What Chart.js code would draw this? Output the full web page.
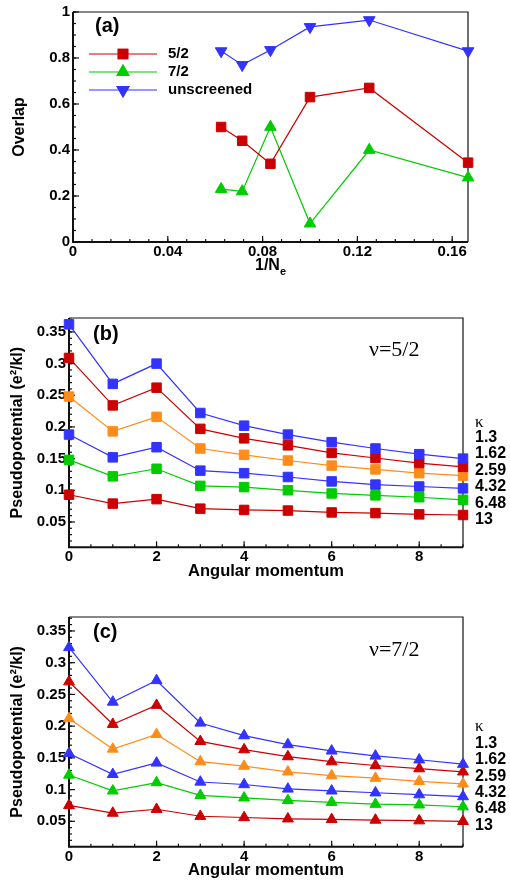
<!DOCTYPE html>
<html><head><meta charset="utf-8">
<script src="https://cdn.jsdelivr.net/npm/chart.js@4.4.0/dist/chart.umd.min.js"></script>
<style>
html,body{margin:0;padding:0;background:#fff;width:510px;height:880px;overflow:hidden}
.p{position:absolute;left:0;width:510px;height:290px}
</style></head><body>
<div class="p" style="top:0"><canvas id="ca"></canvas></div>
<div class="p" style="top:290px"><canvas id="cb"></canvas></div>
<div class="p" style="top:590px"><canvas id="cc"></canvas></div>
<script>
// ---------- data ----------
const invNe = [0.0625, 0.0714, 0.0833, 0.1, 0.125, 0.1667];
const overlap52 = [0.50, 0.44, 0.34, 0.63, 0.67, 0.345];
const overlap72 = [0.23, 0.22, 0.50, 0.08, 0.40, 0.28];
const overlapUnscreened = [0.83, 0.77, 0.835, 0.935, 0.965, 0.83];
const seriesNamesA = ['5/2', '7/2', 'unscreened'];
const xTicksA = [0, 0.04, 0.08, 0.12, 0.16];
const xTickLabelsA = ['0', '0.04', '0.08', '0.12', '0.16'];
const yTicksA = [0, 0.2, 0.4, 0.6, 0.8, 1];
const yTickLabelsA = ['0', '0.2', '0.4', '0.6', '0.8', '1'];

const angularMomentum = [0, 1, 2, 3, 4, 5, 6, 7, 8, 9];
const kappaLabels = ['1.3', '1.62', '2.59', '4.32', '6.48', '13'];
const v52_k1_3  = [0.362, 0.268, 0.300, 0.222, 0.202, 0.188, 0.176, 0.166, 0.157, 0.150];
const v52_k1_62 = [0.309, 0.234, 0.262, 0.197, 0.182, 0.171, 0.159, 0.151, 0.143, 0.137];
const v52_k2_59 = [0.248, 0.193, 0.216, 0.166, 0.156, 0.147, 0.139, 0.133, 0.127, 0.123];
const v52_k4_32 = [0.188, 0.152, 0.168, 0.131, 0.127, 0.121, 0.114, 0.109, 0.106, 0.103];
const v52_k6_48 = [0.148, 0.122, 0.134, 0.107, 0.105, 0.100, 0.095, 0.092, 0.089, 0.085];
const v52_k13   = [0.093, 0.079, 0.086, 0.071, 0.069, 0.068, 0.065, 0.064, 0.062, 0.061];

const v72_k1_3  = [0.324, 0.238, 0.272, 0.205, 0.185, 0.171, 0.161, 0.153, 0.147, 0.140];
const v72_k1_62 = [0.270, 0.203, 0.233, 0.176, 0.163, 0.152, 0.144, 0.138, 0.133, 0.128];
const v72_k2_59 = [0.212, 0.164, 0.187, 0.144, 0.137, 0.128, 0.122, 0.118, 0.113, 0.109];
const v72_k4_32 = [0.157, 0.124, 0.142, 0.112, 0.108, 0.101, 0.098, 0.095, 0.092, 0.089];
const v72_k6_48 = [0.123, 0.098, 0.111, 0.091, 0.087, 0.083, 0.080, 0.077, 0.076, 0.073];
const v72_k13   = [0.075, 0.063, 0.069, 0.058, 0.056, 0.054, 0.053, 0.052, 0.051, 0.050];

const xTicksB = [0, 2, 4, 6, 8];
const xTickLabelsB = ['0', '2', '4', '6', '8'];
const yTicksB = [0.05, 0.1, 0.15, 0.2, 0.25, 0.3, 0.35];
const yTickLabelsB = ['0.05', '0.1', '0.15', '0.2', '0.25', '0.3', '0.35'];

// ---------- styles ----------
const RED = '#cc0000', GREEN = '#00cc00', BLUE = '#3333ff', ORANGE = '#ff8c1a';
const SANS = '"Liberation Sans", Arial, sans-serif';
const SERIF = '"Liberation Serif", "Times New Roman", serif';
const kappaColors = [BLUE, RED, ORANGE, BLUE, GREEN, RED];

function ds(label, xs, ys, color, style, rot, r) {
  return {
    label, data: xs.map((x, i) => ({x, y: ys[i]})),
    borderColor: color, backgroundColor: color, borderWidth: 1.2,
    pointStyle: style, pointRotation: rot || 0, pointRadius: r, pointHoverRadius: r,
    pointBackgroundColor: color, pointBorderColor: color, pointBorderWidth: 1,
    clip: false, tension: 0
  };
}

const framePlugin = {
  id: 'frame',
  beforeDatasetsDraw(chart, args, o) {
    const {ctx, chartArea: a, scales: {x, y}} = chart;
    ctx.save();
    ctx.strokeStyle = '#111';
    ctx.lineWidth = 1.2;
    ctx.beginPath();
    ctx.moveTo(a.left, a.top); ctx.lineTo(a.right, a.top); ctx.lineTo(a.right, a.bottom);
    ctx.stroke();
    ctx.lineWidth = 1.2;
    const xt = (v, len) => { const p = x.getPixelForValue(v); ctx.beginPath(); ctx.moveTo(p, a.bottom); ctx.lineTo(p, a.bottom - len); ctx.stroke(); };
    const yt = (v, len) => { const p = y.getPixelForValue(v); ctx.beginPath(); ctx.moveTo(a.left, p); ctx.lineTo(a.left + len, p); ctx.stroke(); };
    for (let i = 0; ; i++) { const v = x.min + i * o.xMinor; if (v > x.max + 1e-9) break; xt(v, 3); }
    for (let i = 0; ; i++) { const v = o.yMinorStart + i * o.yMinor; if (v > y.max + 1e-9) break; if (v >= y.min - 1e-9) yt(v, 3); }
    o.xMajor.forEach(v => xt(v, 6));
    o.yMajor.forEach(v => yt(v, 6));
    ctx.lineWidth = 2;
    ctx.beginPath();
    ctx.moveTo(a.left, a.top); ctx.lineTo(a.left, a.bottom); ctx.lineTo(a.right, a.bottom);
    ctx.stroke();
    ctx.restore();
  }
};

const textPlugin = {
  id: 'texts',
  afterDatasetsDraw(chart, args, o) {
    const ctx = chart.ctx;
    ctx.save();
    ctx.fillStyle = '#000';
    ctx.textBaseline = 'middle';
    ctx.textAlign = 'left';
    ctx.font = 'bold 20px ' + SANS;
    ctx.fillText(o.panel, o.panelX, o.panelY);
    if (o.nu) {
      ctx.font = '22px ' + SERIF;
      ctx.fillText(o.nu, o.nuX, o.nuY);
    }
    if (o.kappa) {
      ctx.font = '17px ' + SERIF;
      ctx.fillText('\u03BA', o.kX, o.kY);
      ctx.font = 'bold 16px ' + SANS;
      kappaLabels.forEach((t, i) => ctx.fillText(t, o.kX, o.kRow0 + i * o.kGap));
    }
    if (o.legend) {
      chart.data.datasets.forEach((d, i) => {
        const yy = o.legY0 + i * o.legGap;
        ctx.strokeStyle = d.borderColor; ctx.lineWidth = 1.2;
        ctx.beginPath(); ctx.moveTo(o.legX0, yy); ctx.lineTo(o.legX1, yy); ctx.stroke();
        Chart.helpers.drawPoint(ctx, {pointStyle: d.pointStyle, rotation: d.pointRotation, radius: d.pointRadius, borderWidth: 1}, (o.legX0 + o.legX1) / 2, yy);
        ctx.fillStyle = d.backgroundColor;
        ctx.strokeStyle = d.borderColor;
        ctx.fill(); ctx.stroke();
        ctx.fillStyle = '#000';
        ctx.font = 'bold 15px ' + SANS;
        ctx.fillText(d.label, o.legTX, yy);
      });
    }
    if (o.xTitle) {
      ctx.font = 'bold 16px ' + SANS;
      const w1 = ctx.measureText('1/N').width;
      ctx.font = 'bold 11px ' + SANS;
      const w2 = ctx.measureText('e').width;
      const a = chart.chartArea;
      const x0 = (a.left + a.right) / 2 - (w1 + w2) / 2;
      ctx.font = 'bold 16px ' + SANS;
      ctx.fillText('1/N', x0, o.xTitleY);
      ctx.font = 'bold 11px ' + SANS;
      ctx.fillText('e', x0 + w1, o.xTitleY + 6);
    }
    ctx.restore();
  }
};

function fixedTicks(vals, labels) {
  return {
    afterBuildTicks: s => { s.ticks = vals.map(v => ({value: v})); },
    callback: (v) => { const i = vals.findIndex(t => Math.abs(t - v) < 1e-9); return i >= 0 ? labels[i] : ''; }
  };
}

function makeScales(xmin, xmax, ymin, ymax, xt, xl, yt, yl, yW, xH, yTitle, xTitle, yTitlePad, xTitlePad) {
  const fx = fixedTicks(xt, xl), fy = fixedTicks(yt, yl);
  return {
    x: {
      type: 'linear', min: xmin, max: xmax,
      afterBuildTicks: fx.afterBuildTicks,
      afterFit: s => { s.height = xH; },
      grid: {display: false, drawTicks: false, tickLength: 0},
      border: {display: false},
      ticks: {callback: fx.callback, font: {family: SANS, size: 15, weight: 'bold'}, color: '#000', padding: 1, maxRotation: 0, autoSkip: false},
      title: xTitle ? {display: true, text: xTitle, font: {family: SANS, size: 16.5, weight: 'bold', lineHeight: 1}, color: '#000', padding: {top: 0, bottom: xTitlePad}} : {display: false}
    },
    y: {
      type: 'linear', min: ymin, max: ymax,
      afterBuildTicks: fy.afterBuildTicks,
      afterFit: s => { s.width = yW; },
      grid: {display: false, drawTicks: false, tickLength: 0},
      border: {display: false},
      ticks: {callback: fy.callback, font: {family: SANS, size: 15, weight: 'bold'}, color: '#000', padding: 3, autoSkip: false},
      title: {display: true, text: yTitle, font: {family: SANS, size: 16, weight: 'bold', lineHeight: 1}, color: '#000', padding: {top: yTitlePad, bottom: 0}}
    }
  };
}

const common = {
  responsive: true, maintainAspectRatio: false, animation: false,
  plugins: {legend: {display: false}, tooltip: {enabled: false}}
};

// ---------- panel (a) ----------
new Chart(document.getElementById('ca'), {
  type: 'line',
  data: {datasets: [
    ds(seriesNamesA[0], invNe, overlap52, RED, 'rect', 0, 6.7),
    ds(seriesNamesA[1], invNe, overlap72, GREEN, 'triangle', 0, 6.7),
    ds(seriesNamesA[2], invNe, overlapUnscreened, BLUE, 'triangle', 180, 6.7)
  ]},
  options: Object.assign({}, common, {
    layout: {padding: {left: 0, right: 42, top: 12, bottom: 0}},
    scales: makeScales(0, 1 / 6, 0, 1, xTicksA, xTickLabelsA, yTicksA, yTickLabelsA, 73, 48, 'Overlap', null, 12, 0),
    plugins: Object.assign({}, common.plugins, {
      frame: {xMinor: 0.008, yMinor: 0.05, yMinorStart: 0, xMajor: xTicksA, yMajor: yTicksA},
      texts: {panel: '(a)', panelX: 95, panelY: 26, legend: true, legY0: 54, legGap: 18, legX0: 89, legX1: 157, legTX: 168, xTitle: true, xTitleY: 266}
    })
  }),
  plugins: [framePlugin, textPlugin]
});

// ---------- panels (b), (c) ----------
function kappaPanel(id, sets, style, panel, nu, top, bottomH, kY, kRow0, kGap, panelY, xTitlePad) {
  const datasets = sets.map((vals, i) => ds(kappaLabels[i], angularMomentum, vals, kappaColors[i], style, 0, style === 'rect' ? 6.7 : 6.3));
  new Chart(document.getElementById(id), {
    type: 'line',
    data: {datasets},
    options: Object.assign({}, common, {
      layout: {padding: {left: 0, right: 47, top: top, bottom: 0}},
      scales: makeScales(0, 9, 0.01, 0.372, xTicksB, xTickLabelsB, yTicksB, yTickLabelsB, 69, bottomH, 'Pseudopotential (e\u00B2/kl)', 'Angular momentum', 9.5, xTitlePad),
      plugins: Object.assign({}, common.plugins, {
        frame: {xMinor: 0.5, yMinor: 0.01, yMinorStart: 0.01, xMajor: xTicksB, yMajor: yTicksB},
        texts: {panel, panelX: 93, panelY, nu, nuX: 369, nuY: 60, kappa: true, kX: 475, kY, kRow0, kGap}
      })
    }),
    plugins: [framePlugin, textPlugin]
  });
}
kappaPanel('cb', [v52_k1_3, v52_k1_62, v52_k2_59, v52_k4_32, v52_k6_48, v52_k13], 'rect', '(b)', '\u03BD=5/2', 28, 32.7, 132.7, 147.3, 16.5, 44, 0);
kappaPanel('cc', [v72_k1_3, v72_k1_62, v72_k2_59, v72_k4_32, v72_k6_48, v72_k13], 'triangle', '(c)', '\u03BD=7/2', 27, 33.3, 136.7, 153.3, 16.4, 42, 1);
</script>
</body></html>
